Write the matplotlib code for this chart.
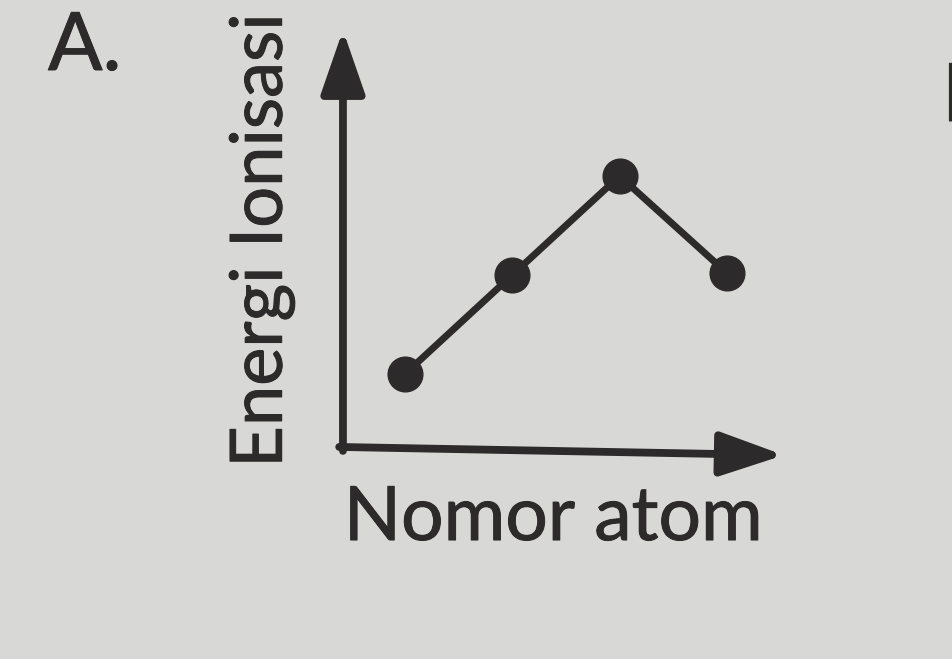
import matplotlib
matplotlib.use("Agg")
import matplotlib.pyplot as plt
import matplotlib.patheffects as pe

# Data
atomic_number = [1, 2, 3, 4]
ionization_energy = [1.0, 2.0, 3.0, 2.02]
x_label = "Nomor atom"
y_label = "Energi Ionisasi"
panel_label = "A."

bg = "#d8d9d7"
ink = "#2c2a2a"

fig = plt.figure(figsize=(9.53, 6.59), dpi=100, facecolor=bg)
ax = fig.add_axes([0, 0, 1, 1])
ax.set_facecolor(bg)
ax.set_xlim(-2.774, 6.107)
ax.set_ylim(-1.879, 4.778)
ax.axis("off")

font = "Lato"
thick = [pe.withStroke(linewidth=0.7, foreground=ink)]

# axes arrows
x0, y0 = 0.422, 0.263
style = "-|>,head_length=3.9,head_width=1.35"
ax.annotate("", xy=(x0, 4.475), xytext=(x0, y0 - 0.04),
            arrowprops=dict(arrowstyle=style, lw=5.6, color=ink,
                            shrinkA=0, shrinkB=0))
ax.annotate("", xy=(4.53, 0.18), xytext=(x0 - 0.035, y0),
            arrowprops=dict(arrowstyle=style, lw=5.6, color=ink,
                            shrinkA=0, shrinkB=0))

# series
ax.plot(atomic_number, ionization_energy, color=ink, lw=5.0,
        marker="o", markersize=25, markerfacecolor=ink, markeredgecolor=ink,
        solid_capstyle="round")

# texts
ax.text(0.43, -0.46, x_label, fontsize=54, color=ink, family=font,
        ha="left", va="center", path_effects=thick)
ax.text(-0.335, 2.35, y_label, fontsize=52, color=ink, family=font,
        rotation=90, ha="center", va="center", path_effects=thick)
fig.text(48 / 953, 1 - 47 / 659, panel_label, fontsize=58, color=ink,
         family=font, ha="left", va="center", path_effects=thick)
fig.text(942 / 953, 1 - 98 / 659, "B", fontsize=58, color=ink,
         family=font, ha="left", va="center", path_effects=thick)

fig.savefig("out.png", dpi=100, facecolor=bg)
